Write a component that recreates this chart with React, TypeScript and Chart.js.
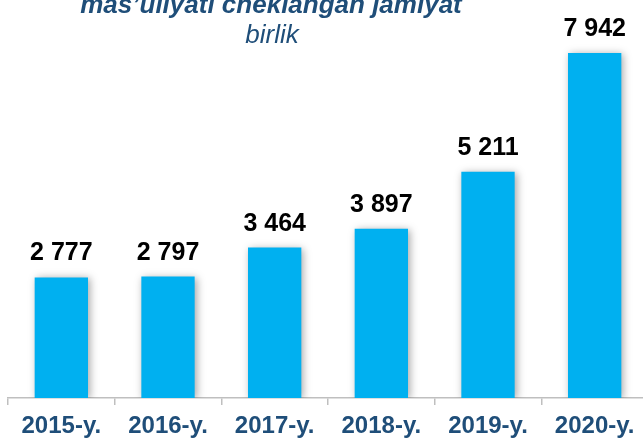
import React, { useEffect, useRef } from "react";
import { Chart, registerables } from "chart.js";

Chart.register(...registerables);

const categories = ["2015-y.", "2016-y.", "2017-y.", "2018-y.", "2019-y.", "2020-y."];
const values = [2777, 2797, 3464, 3897, 5211, 7942];
const valueLabels = ["2 777", "2 797", "3 464", "3 897", "5 211", "7 942"];
const titleLine1 = "mas’uliyati cheklangan jamiyat";
const titleLine2 = "birlik";

const BLUE = "#00B0F0";
const DARK = "#1F4E79";

const shadowPlugin = {
  id: "barShadow",
  beforeDatasetsDraw(chart: any) {
    const ctx = chart.ctx;
    ctx.save();
    ctx.shadowColor = "rgba(0,0,0,0.35)";
    ctx.shadowBlur = 8;
    ctx.shadowOffsetX = 2;
    ctx.shadowOffsetY = 1;
  },
  afterDatasetsDraw(chart: any) {
    chart.ctx.restore();
  },
};

const labelPlugin = {
  id: "labelsAndTitle",
  afterDraw(chart: any) {
    const ctx = chart.ctx;
    ctx.save();
    const meta = chart.getDatasetMeta(0);
    ctx.fillStyle = "#000";
    ctx.font = "bold 25px 'Liberation Sans', Arial, sans-serif";
    ctx.textAlign = "center";
    ctx.textBaseline = "alphabetic";
    meta.data.forEach((bar: any, i: number) => {
      ctx.fillText(valueLabels[i], bar.x, bar.y - 17);
    });
    ctx.fillStyle = DARK;
    ctx.font = "italic bold 26px 'Liberation Sans', Arial, sans-serif";
    ctx.fillText(titleLine1, 271, 13);
    ctx.font = "italic 26px 'Liberation Sans', Arial, sans-serif";
    ctx.fillText(titleLine2, 272, 43);
    ctx.restore();
  },
};

export default function App() {
  const ref = useRef<HTMLCanvasElement>(null);
  useEffect(() => {
    if (!ref.current) return;
    const chart = new Chart(ref.current, {
      type: "bar",
      data: {
        labels: categories,
        datasets: [
          {
            data: values,
            backgroundColor: BLUE,
            borderWidth: 0,
            barPercentage: 0.5,
            categoryPercentage: 1,
          },
        ],
      },
      options: {
        responsive: false,
        animation: false,
        devicePixelRatio: 1,
        layout: { padding: { left: 8, right: 8, top: 0, bottom: 0 } },
        plugins: { legend: { display: false }, tooltip: { enabled: false }, title: { display: false } },
        scales: {
          x: {
            grid: {
              offset: true,
              drawOnChartArea: false,
              drawTicks: true,
              tickLength: 7,
              color: "#BFBFBF",
              lineWidth: 1.5,
            },
            border: { display: true, color: "#BFBFBF", width: 1.5 },
            ticks: {
              color: DARK,
              font: { family: "'Liberation Sans', Arial, sans-serif", size: 24, weight: "bold" },
              padding: 7,
              maxRotation: 0,
              autoSkip: false,
            },
            afterFit(scale: any) {
              scale.height = 40;
            },
          },
          y: {
            display: false,
            min: 0,
            max: 9165,
          },
        },
      },
      plugins: [shadowPlugin, labelPlugin],
    } as any);
    return () => chart.destroy();
  }, []);
  return (
    <div style={{ position: "fixed", left: 0, top: 0, width: 643, height: 438, overflow: "hidden", background: "#fff" }}>
      <canvas ref={ref} width={656} height={438} style={{ display: "block" }} />
    </div>
  );
}
